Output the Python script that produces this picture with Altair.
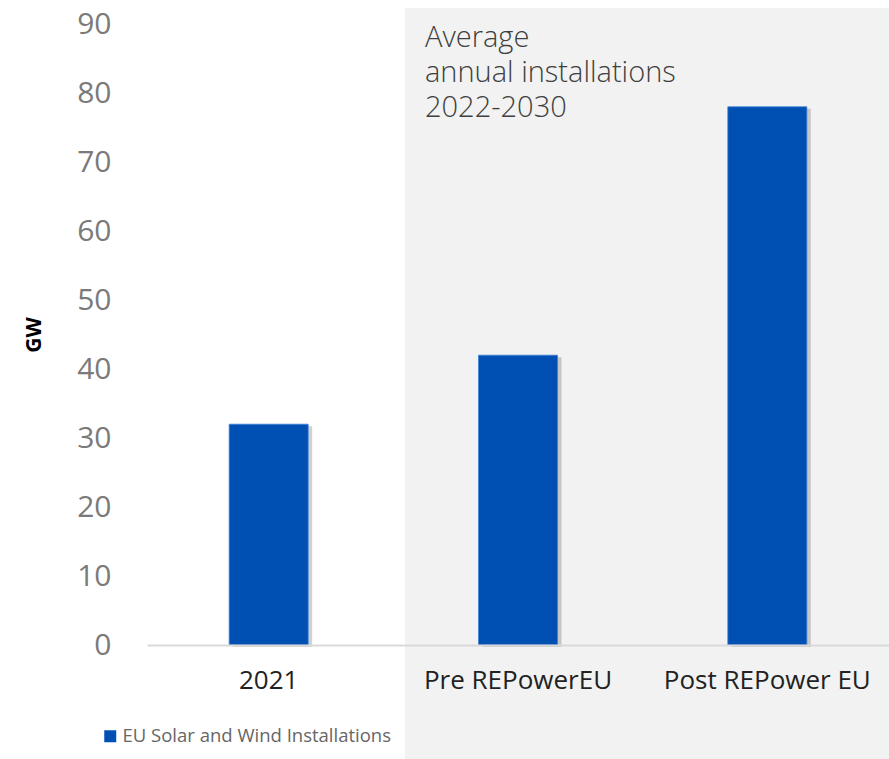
import altair as alt
import pandas as pd

categories = ["2021", "Pre REPowerEU", "Post REPower EU"]
values = [32, 42, 78]
series_name = "EU Solar and Wind Installations"
y_ticks = [0, 10, 20, 30, 40, 50, 60, 70, 80, 90]
annotation = ["Average", "annual installations", "2022-2030"]

FONT = "Open Sans"
BLUE = "#0050b4"

df = pd.DataFrame({"category": categories, "value": values, "series": [series_name] * 3})

x_enc = alt.X("category:N", sort=categories, title=None,
              scale=alt.Scale(paddingInner=0.684, paddingOuter=0.33),
              axis=alt.Axis(labelAngle=0, labelFontSize=26, labelColor="#222222", labelFont=FONT,
                            labelPadding=22, labelLimit=0, ticks=False, domainColor="#d9d9d9",
                            domainWidth=2, zindex=1))
y_enc = alt.Y("value:Q", title="GW",
              scale=alt.Scale(domain=[0, 90], nice=False),
              axis=alt.Axis(values=y_ticks, grid=False, domain=False, ticks=False,
                            labelFontSize=30, labelColor="#7a7a7a", labelFont=FONT, labelPadding=36,
                            titleFont=FONT, titleFontSize=21, titleFontWeight="bold", titleColor="#000000",
                            titlePadding=32, zindex=1))

bg = alt.Chart(pd.DataFrame({"a": [1]})).mark_rect(color="#f2f2f2").encode(
    x=alt.value(258), x2=alt.value(742), y=alt.value(-16), y2=alt.value(735)
)

shadow = alt.Chart(df).mark_bar(size=79, color="#000000", opacity=0.18, xOffset=4, yOffset=2).encode(
    x=x_enc, y=y_enc
)

bars = alt.Chart(df).mark_bar(size=79, stroke="#3d7fd6", strokeWidth=0.8).encode(
    x=x_enc, y=y_enc,
    color=alt.Color("series:N", scale=alt.Scale(range=[BLUE]),
                    legend=alt.Legend(title=None, orient="none", legendX=-46, legendY=703,
                                      symbolType="square", symbolSize=144, symbolStrokeWidth=0,
                                      labelFontSize=18.5, labelColor="#666666", labelFont=FONT,
                                      labelOffset=3, labelLimit=0))
)

text = alt.Chart(pd.DataFrame({"t": [annotation]})).mark_text(
    align="left", baseline="top", fontSize=29, font=FONT, color="#404040", lineHeight=35,
    fontWeight=300
).encode(x=alt.value(278), y=alt.value(0), text="t")

chart = alt.layer(bg, shadow, bars, text).properties(
    width=742, height=621,
    autosize=alt.AutoSizeParams(type="none"),
    padding={"left": 147, "top": 24, "right": 0, "bottom": 114},
).configure(background="white").configure_view(strokeWidth=0)

chart.save("out.html", embed_options={"renderer": "svg", "actions": False})
